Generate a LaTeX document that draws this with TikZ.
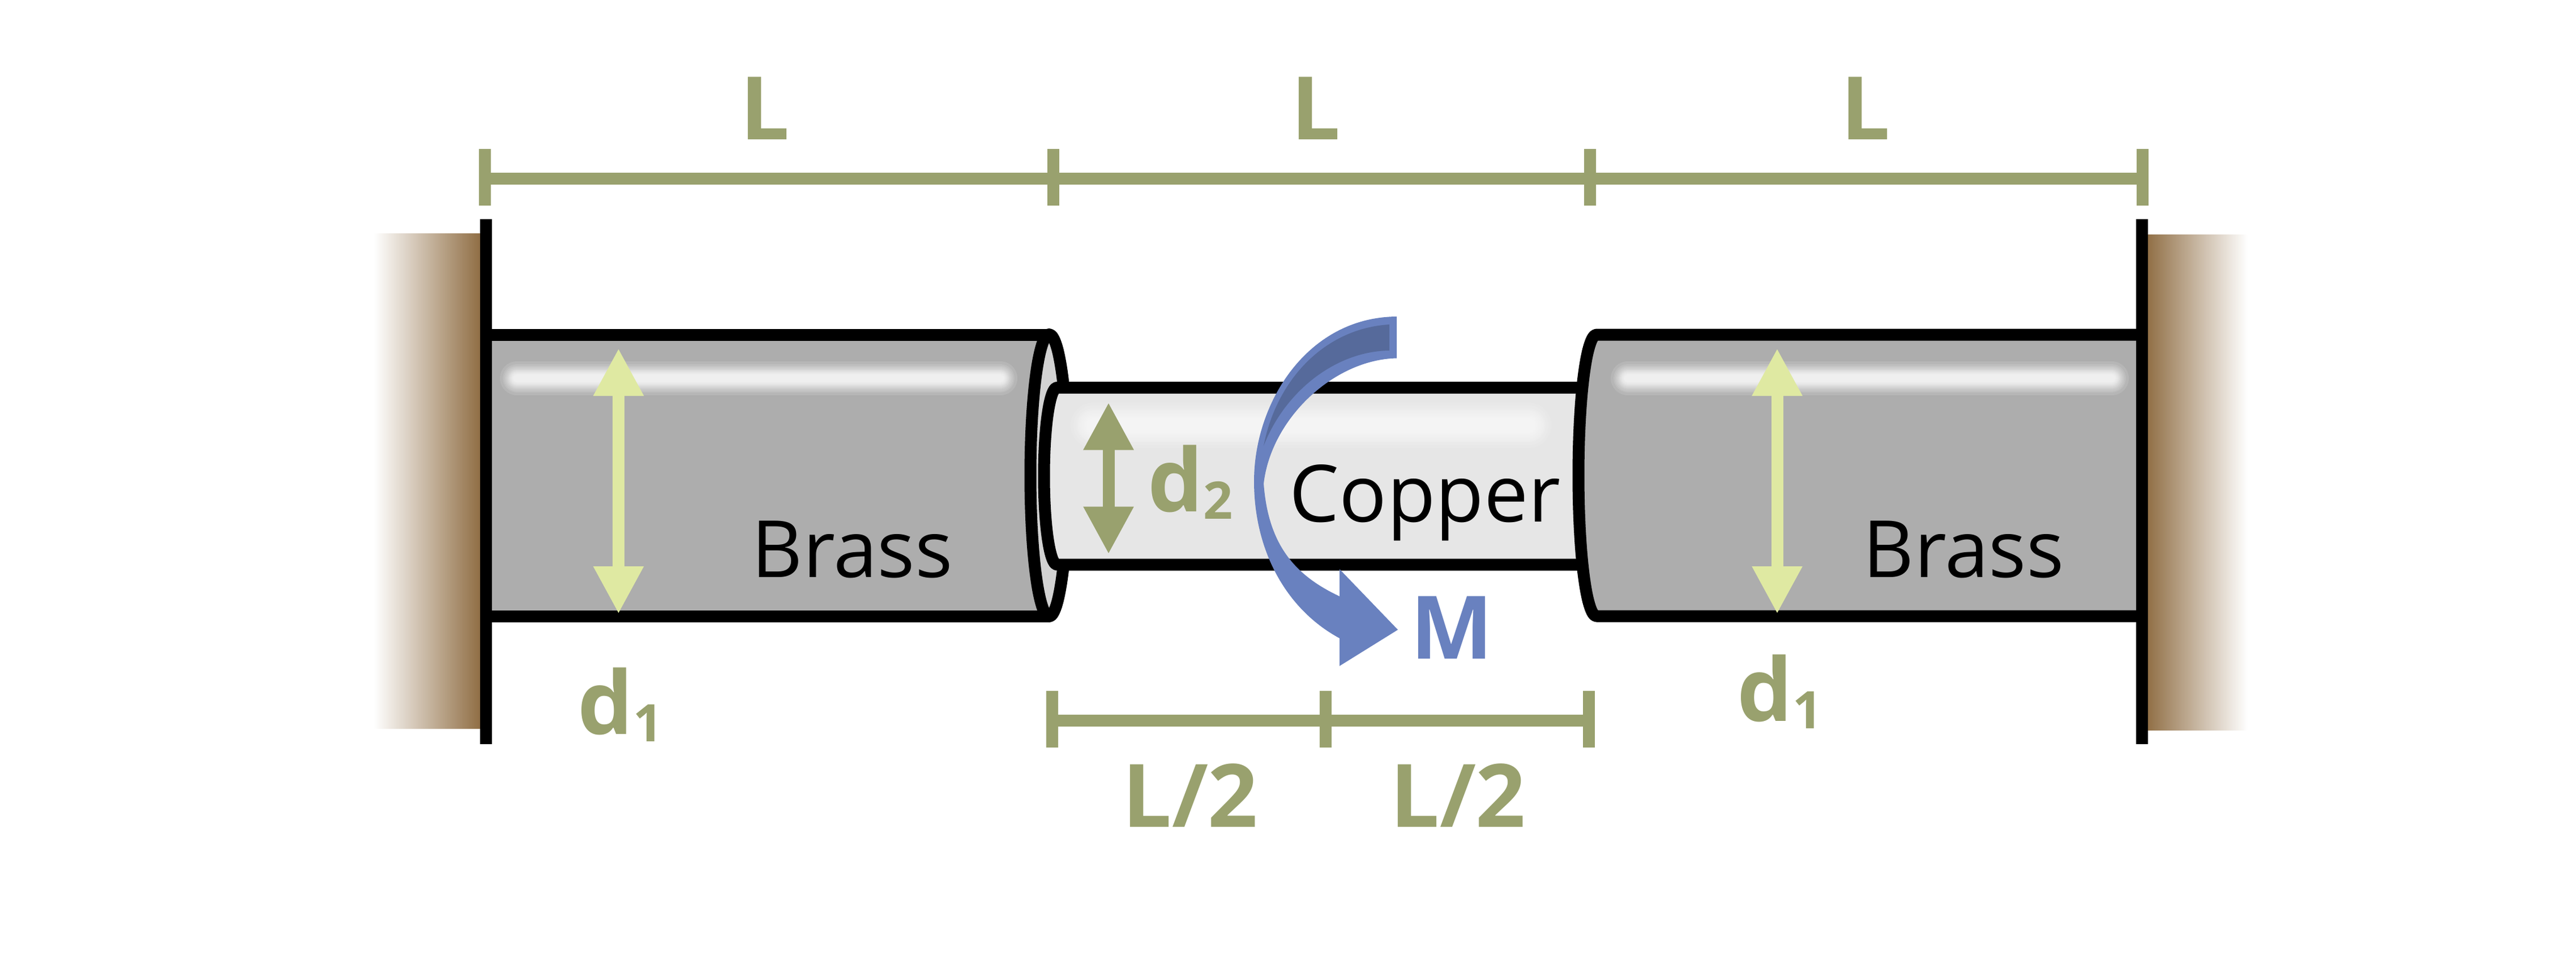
\documentclass[tikz,border=0pt]{standalone}
\usepackage{fontspec}
\setmainfont{Open Sans}
\usetikzlibrary{arrows.meta}
\definecolor{olive}{HTML}{99A16E}
\definecolor{lime}{HTML}{DFE9A2}
\definecolor{brassgray}{HTML}{ADADAD}
\definecolor{coppergray}{HTML}{E6E6E6}
\definecolor{endgray}{HTML}{D2D2D2}
\definecolor{wallbrown}{HTML}{8F6D43}
\definecolor{wallfade}{HTML}{E0D6CA}
\definecolor{momentblue}{HTML}{6981BF}
\definecolor{momentdark}{HTML}{566A9B}
\tikzset{
  outline/.style={draw=black, line width=2.1mm, line join=round},
  dimline/.style={draw=olive, line width=2.1mm},
  dimarrow/.style={line width=2.1mm, {Triangle[length=8.4mm,width=8.3mm]}-{Triangle[length=8.4mm,width=8.3mm]}},
  glint/.style={draw=white, opacity=.11, line cap=round},
  dimlabel/.style={anchor=base west, inner sep=0pt, text=olive, font=\fontsize{44pt}{44pt}\selectfont\bfseries},
  partlabel/.style={anchor=base west, inner sep=0pt, text=black, font=\fontsize{39.7pt}{40pt}\selectfont}
}
\newcommand{\subdigit}[1]{\raisebox{-3.7pt}{\fontsize{26pt}{26pt}\selectfont #1}}
\begin{document}
\begin{tikzpicture}[x=1cm,y=-1cm]
  \useasboundingbox (0,0) rectangle (45.5,17.03);

  % walls
  \shade[left color=white, middle color=wallfade, right color=wallbrown] (6.6,4.12) rectangle (8.5,12.86);
  \shade[left color=wallbrown, middle color=wallfade, right color=white] (37.9,4.14) rectangle (39.7,12.89);

  % left brass bar
  \fill[brassgray] (8.6,5.91) rectangle (18.53,10.88);
  \foreach \w in {1.2,1.4,1.6,1.8,2,2.2,2.4,2.6,2.8,3,3.3,3.6,4,4.5,5,6}
    \draw[glint, line width=\w mm] (9.13,6.68) -- (17.67,6.68);
  \draw[outline] (8.6,5.91) -- (18.53,5.91);
  \draw[outline] (8.6,10.88) -- (18.53,10.88);
  \draw[outline, fill=endgray] (18.53,8.395) ellipse [x radius=.33, y radius=2.49];

  % copper bar
  \path[fill=coppergray] (28.2,6.845) -- (18.67,6.845)
    .. controls (18.54,6.845) and (18.44,7.55) .. (18.44,8.405)
    .. controls (18.44,9.26) and (18.54,9.97) .. (18.67,9.97) -- (28.2,9.97) -- cycle;
  \foreach \w in {2.5,3,3.5,4,4.5,5,5.5,6,7,8}
    \draw[glint, line width=\w mm] (19.31,7.51) -- (27.0,7.51);
  \draw[outline] (28.2,6.845) -- (18.67,6.845)
    .. controls (18.54,6.845) and (18.44,7.55) .. (18.44,8.405)
    .. controls (18.44,9.26) and (18.54,9.97) .. (18.67,9.97) -- (28.2,9.97);

  % right brass bar
  \path[fill=brassgray] (37.8,5.91) -- (28.2,5.91)
    .. controls (28.02,5.91) and (27.88,7.02) .. (27.88,8.395)
    .. controls (27.88,9.77) and (28.02,10.88) .. (28.2,10.88) -- (37.8,10.88) -- cycle;
  \foreach \w in {1.2,1.4,1.6,1.8,2,2.2,2.4,2.6,2.8,3,3.3,3.6,4,4.5,5,6}
    \draw[glint, line width=\w mm] (28.75,6.68) -- (37.3,6.68);
  \draw[outline] (37.8,5.91) -- (28.2,5.91)
    .. controls (28.02,5.91) and (27.88,7.02) .. (27.88,8.395)
    .. controls (27.88,9.77) and (28.02,10.88) .. (28.2,10.88) -- (37.8,10.88);

  % wall plates
  \coordinate (plateltop) at (8.58,3.87);
  \coordinate (platelbot) at (8.58,13.14);
  \coordinate (platertop) at (37.83,3.87);
  \coordinate (platerbot) at (37.83,13.14);
  \draw[outline] (plateltop) -- (platelbot);
  \draw[outline] (platertop) -- (platerbot);

  % dimensions, top
  \coordinate (topa) at (8.56,3.15);
  \coordinate (topb) at (18.6,3.15);
  \coordinate (topc) at (28.08,3.15);
  \coordinate (topd) at (37.84,3.15);
  \draw[dimline] (topa) -- (topd);
  \foreach \tick in {topa,topb,topc,topd}
    \draw[dimline] (\tick)+(0,-.52) -- +(0,.48);

  % dimensions, bottom
  \coordinate (bota) at (18.58,12.72);
  \coordinate (botb) at (23.41,12.72);
  \coordinate (botc) at (28.06,12.72);
  \draw[dimline] (bota) -- (botc);
  \foreach \tick in {bota,botb,botc}
    \draw[dimline] (\tick)+(0,-.52) -- +(0,.48);

  % diameter arrows
  \coordinate (donetopl) at (10.925,6.15);
  \coordinate (donebotl) at (10.925,10.84);
  \coordinate (donetopr) at (31.39,6.15);
  \coordinate (donebotr) at (31.39,10.84);
  \coordinate (dtwotop) at (19.58,7.105);
  \coordinate (dtwobot) at (19.58,9.785);
  \draw[dimarrow, draw=lime, fill=lime] (donetopl) -- (donebotl);
  \draw[dimarrow, draw=lime, fill=lime] (donetopr) -- (donebotr);
  \draw[dimarrow, draw=olive, fill=olive] (dtwotop) -- (dtwobot);

  % moment
  \fill[momentblue] (24.67,5.59)
    .. controls (23.1,5.6) and (22.15,7.1) .. (22.15,8.5)
    .. controls (22.15,9.7) and (22.7,10.75) .. (23.66,11.27)
    -- (23.66,11.76) -- (24.69,11.12) -- (23.66,10.05) -- (23.66,10.53)
    .. controls (22.85,10.15) and (22.4,9.6) .. (22.32,8.54)
    .. controls (22.45,7.4) and (23.55,6.35) .. (24.67,6.325) -- cycle;
  \fill[momentdark] (24.54,5.73)
    .. controls (23.4,5.8) and (22.55,6.7) .. (22.32,7.87)
    .. controls (22.7,6.9) and (23.6,6.2) .. (24.54,6.19) -- cycle;

  % labels
  \node (ltopa) [dimlabel] at (13.07,2.46) {L};
  \node (ltopb) [dimlabel] at (22.8,2.46) {L};
  \node (ltopc) [dimlabel] at (32.51,2.46) {L};
  \node (lbota) [dimlabel] at (19.82,14.6) {L/2};
  \node (lbotb) [dimlabel] at (24.55,14.6) {L/2};
  \node (donel) [dimlabel] at (10.2,12.96) {d\subdigit{1}};
  \node (doner) [dimlabel] at (30.68,12.73) {d\subdigit{1}};
  \node (dtwo) [dimlabel] at (20.27,9.03) {d\subdigit{2}};
  \node (mlabel) [dimlabel, text=momentblue] at (24.91,11.63) {M};
  \node (brassl) [partlabel] at (13.27,10.19) {Brass};
  \node (brassr) [partlabel] at (32.9,10.19) {Brass};
  \node (copper) [partlabel] at (22.77,9.21) {Copper};
\end{tikzpicture}
\end{document}
